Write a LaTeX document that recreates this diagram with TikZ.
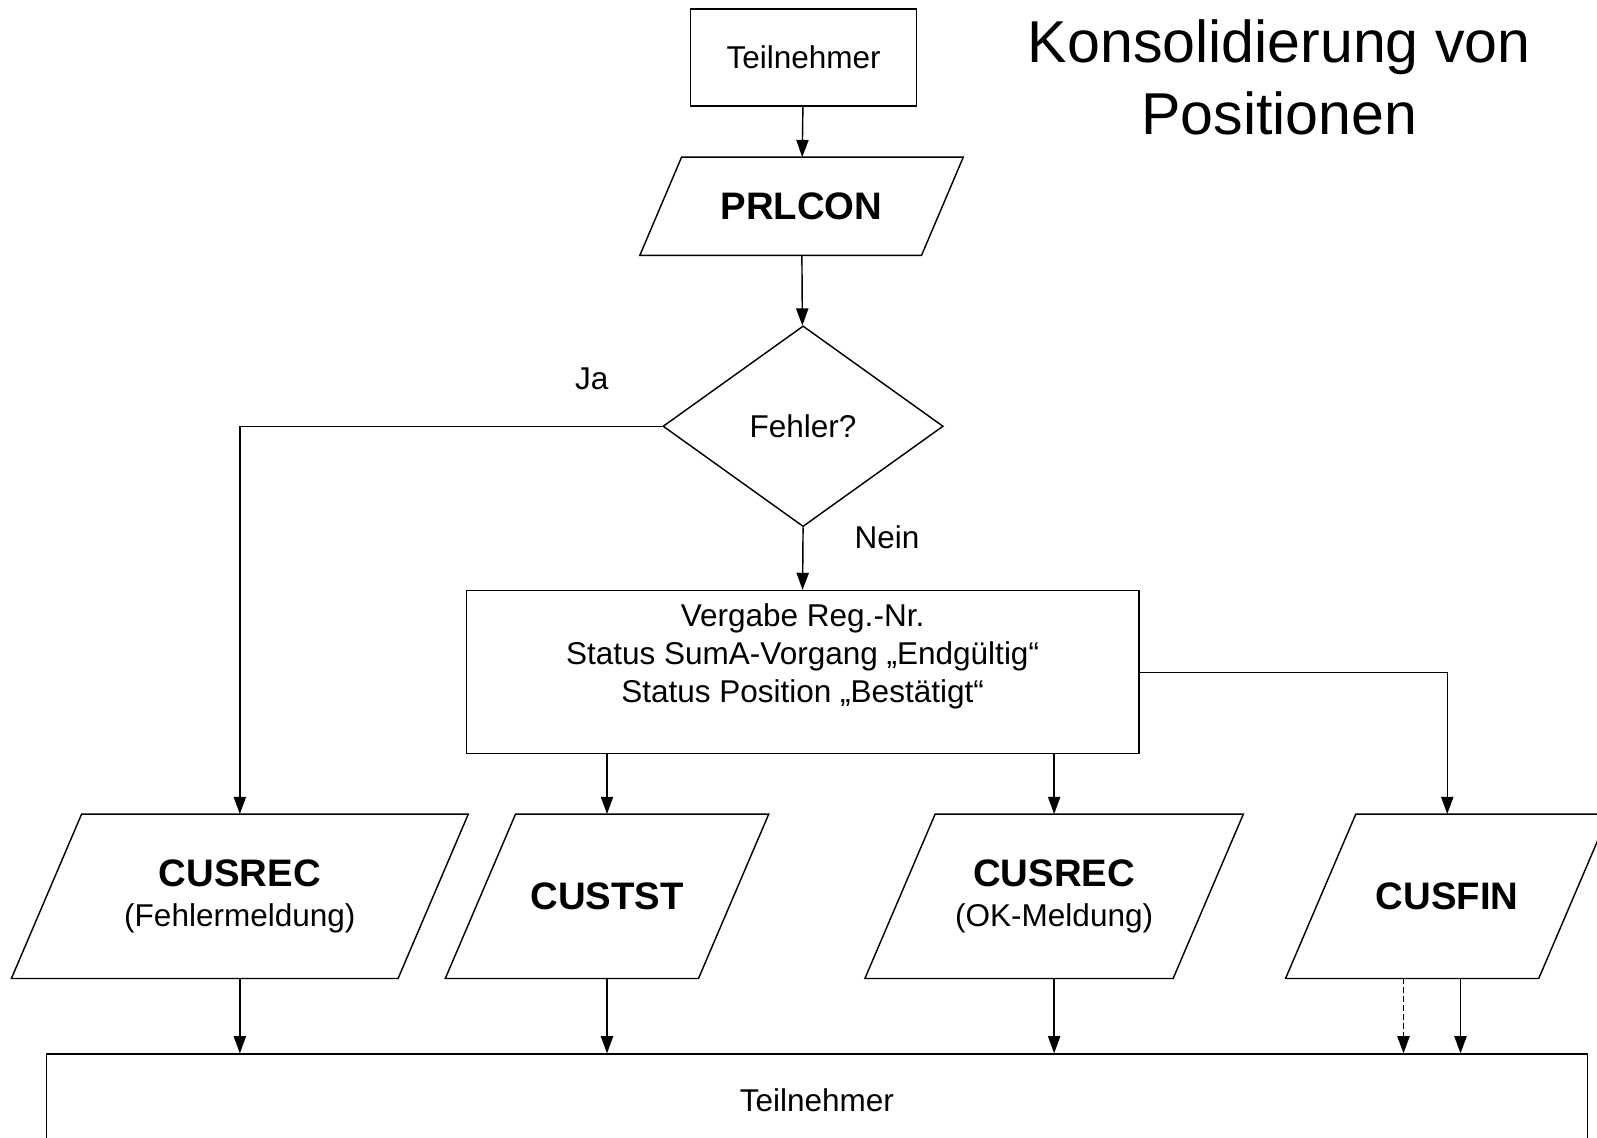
\documentclass[tikz,border=0pt]{standalone}
\usepackage{fontspec}
\setmainfont{Liberation Sans}
\usepackage{tikz}
\usetikzlibrary{shapes,positioning,calc}
\usetikzlibrary{shapes.geometric}
\usetikzlibrary{arrows.meta}
\tikzstyle{kasten} = [rectangle, minimum width=2.22cm, minimum height=0.95cm, inner sep=0pt, text centered, align=center, draw=black, font=\fontsize{8.8}{10.7}\selectfont]
\tikzstyle{daten} = [rectangle, minimum width=3.16cm, minimum height=1.6cm, inner sep=0pt, text centered, align=center, font=\fontsize{8.8}{11}\selectfont]
\tikzstyle{raute} = [diamond, minimum width=2.75cm, minimum height=1.97cm, inner sep=0pt, text centered, draw=black, font=\fontsize{8.8}{10.7}\selectfont]
\tikzstyle{schrift} = [inner sep=0pt, font=\fontsize{8.8}{10.7}\selectfont]
\tikzstyle{pfeil} = [-{Triangle[length=4.8pt,width=3.4pt]}]
\newcommand{\fett}[1]{{\fontsize{10.7}{12}\selectfont\bfseries #1}}

\begin{document}
\begin{tikzpicture}[x=0.01cm, y=-0.01cm, line width=0.4pt]
	\clip (0,0) rectangle (1568,1117);
	\node (titel) at (1256,76) [align=center, font=\fontsize{16.5}{19.9}\selectfont] {Konsolidierung von\\Positionen};
	\node (tn) at (789,56.5) [kasten] {Teilnehmer};
	\node (prl) at (787,202.5) [daten, minimum height=0.95cm] {\fett{PRLCON}};
	\node (fehler) at (788.5,418.5) [raute] {Fehler?};
	\node (ja) at (581,372) [schrift] {Ja};
	\node (nein) at (871,527) [schrift] {Nein};
	\node (reg) at (788,660) [kasten, minimum width=6.6cm, minimum height=1.6cm] {Vergabe Reg.-Nr.\\Status SumA-Vorgang „Endgültig“\\Status Position „Bestätigt“\\\mbox{}};
	\node (recf) at (235.5,880) [daten, minimum width=4.47cm] {\fett{CUSREC}\\(Fehlermeldung)};
	\node (tst) at (596,880) [daten] {\fett{CUSTST}};
	\node (recok) at (1035,880) [daten, minimum width=3.7cm] {\fett{CUSREC}\\(OK-Meldung)};
	\node (fin) at (1421,880) [daten] {\fett{CUSFIN}};
	\node (tn2) at (802,1080) [kasten, minimum width=15.12cm, minimum height=0.9cm] {Teilnehmer};
	\foreach \n/\s in {prl/41,recf/69,tst/69,recok/69,fin/69}
		\draw ($(\n.north west)+(\s,0)$) -- (\n.north east) -- ($(\n.south east)+(-\s,0)$) -- (\n.south west) -- cycle;
	\draw[pfeil] (tn) -- (prl);
	\draw[pfeil] (prl) -- (fehler);
	\draw[pfeil] (fehler.west) -| (recf.north);
	\draw[pfeil] (fehler.south) -- (reg.north);
	\draw[pfeil] (reg.east) -| (fin.north);
	\draw[pfeil] (reg.south -| tst.north) -- (tst.north);
	\draw[pfeil] (reg.south -| recok.north) -- (recok.north);
	\draw[pfeil] (recf.south) -- (recf.south |- tn2.north);
	\draw[pfeil] (tst.south) -- (tst.south |- tn2.north);
	\draw[pfeil] (recok.south) -- (recok.south |- tn2.north);
	\draw[pfeil] ($(fin.south)+(13,0)$) -- ($(fin.south |- tn2.north)+(13,0)$);
	\draw[pfeil, dash pattern=on 1.5pt off 1pt] ($(fin.south)+(-43,0)$) -- ($(fin.south |- tn2.north)+(-43,0)$);
\end{tikzpicture}
\end{document}
